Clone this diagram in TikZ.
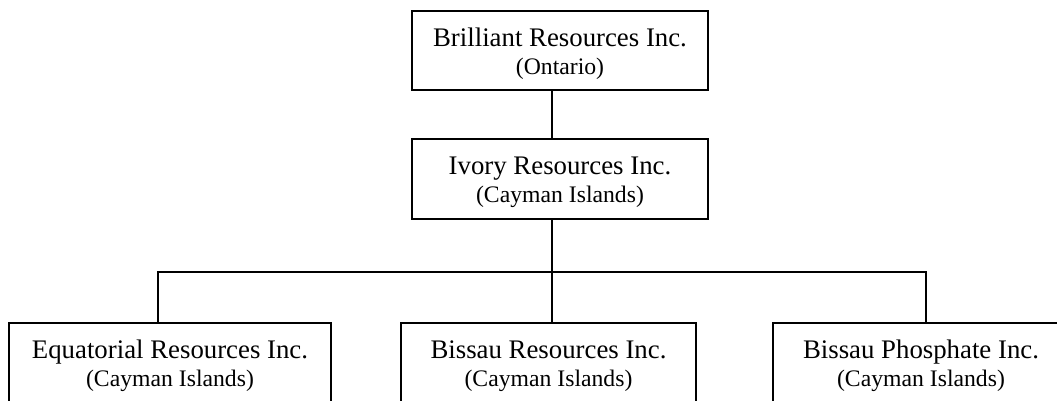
\documentclass[tikz,border=0pt]{standalone}
\usepackage{fontspec}
\setmainfont{Liberation Serif}

\tikzset{
  firm/.style={draw, line width=2.3pt, minimum width=296pt, minimum height=79pt,
    inner sep=0pt, align=center, font=\fontsize{26.8}{28}\selectfont},
  link/.style={line width=2pt}
}
% company name over its jurisdiction
\newcommand{\firmtext}[2]{\rule{0pt}{25pt}#1\\{\fontsize{23.7}{28}\selectfont #2}}

\begin{document}
\begin{tikzpicture}[x=1pt,y=-1pt]
		\useasboundingbox (0,0) rectangle (1057,401);
		\clip (0,0) rectangle (1057,401);
		
		\node[firm] at (560,50.5) (brilliant) {\firmtext{Brilliant Resources Inc.}{(Ontario)}};
		\node[firm, minimum height=80pt] at (560,179) (ivory) {\firmtext{Ivory Resources Inc.}{(Cayman Islands)}};
		
		\node[firm, minimum width=322pt] at (170,362.5) (equatorial) {\firmtext{Equatorial Resources Inc.}{(Cayman Islands)}};
		\node[firm, minimum width=295pt] at (548.5,362.5) (bissau) {\firmtext{Bissau Resources Inc.}{(Cayman Islands)}};
		\node[firm] at (921,362.5) (phosphate) {\firmtext{Bissau Phosphate Inc.}{(Cayman Islands)}};
		
		\coordinate (bus) at (552,272);
		\draw[link] ([xshift=-8pt]brilliant.south) -- ([xshift=-8pt]ivory.north);
		\draw[link] ([xshift=-8pt]ivory.south) -- (bus);
		\draw[link] ([xshift=-12pt]equatorial.north) |- (bus) -| ([xshift=5pt]phosphate.north);
		\draw[link] (bus) -- ([xshift=3.5pt]bissau.north);
	\end{tikzpicture}
\end{document}
